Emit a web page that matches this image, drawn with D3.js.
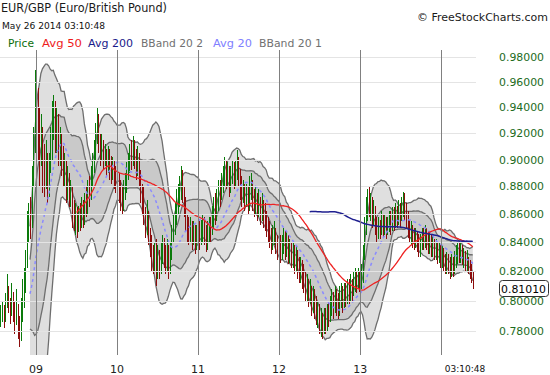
<!DOCTYPE html>
<html><head><meta charset="utf-8">
<script src="https://cdn.jsdelivr.net/npm/d3@7"></script>
<style>body{margin:0;background:#fff}svg{display:block}</style>
</head><body><svg id="c" width="550" height="375"></svg>
<script>
// ---- data (weekly bars, EUR/GBP) ----
const startDate = "2008-07-25";
const closeVals = [0.790,0.794,0.788,0.796,0.807,0.799,0.791,0.801,0.794,0.786,
0.796,0.783,0.777,0.791,0.803,0.812,0.826,0.848,0.862,0.852,
0.885,0.910,0.955,0.945,0.930,0.905,0.920,0.892,0.885,0.898,
0.880,0.895,0.910,0.925,0.940,0.920,0.930,0.905,0.915,0.900,
0.890,0.895,0.880,0.885,0.870,0.875,0.860,0.852,0.860,0.850,
0.858,0.855,0.862,0.858,0.868,0.865,0.878,0.872,0.888,0.895,
0.905,0.920,0.930,0.915,0.905,0.912,0.900,0.905,0.895,0.902,
0.898,0.890,0.895,0.888,0.882,0.885,0.878,0.872,0.868,0.875,
0.880,0.890,0.895,0.905,0.900,0.910,0.902,0.895,0.900,0.888,
0.875,0.870,0.858,0.850,0.860,0.845,0.838,0.830,0.825,0.832,
0.820,0.828,0.822,0.832,0.838,0.830,0.825,0.833,0.822,0.835,
0.845,0.852,0.860,0.868,0.875,0.880,0.885,0.878,0.868,0.855,
0.850,0.845,0.852,0.842,0.848,0.840,0.845,0.850,0.842,0.848,
0.855,0.845,0.840,0.848,0.852,0.845,0.858,0.865,0.860,0.870,
0.878,0.872,0.882,0.888,0.895,0.885,0.892,0.880,0.888,0.895,
0.885,0.890,0.898,0.888,0.880,0.872,0.878,0.870,0.875,0.868,
0.875,0.882,0.870,0.865,0.872,0.862,0.868,0.858,0.865,0.860,
0.858,0.852,0.848,0.845,0.840,0.845,0.848,0.840,0.836,0.842,
0.832,0.838,0.842,0.835,0.840,0.832,0.836,0.828,0.832,0.825,
0.830,0.822,0.818,0.822,0.815,0.812,0.808,0.810,0.802,0.806,
0.798,0.802,0.795,0.790,0.792,0.785,0.788,0.782,0.788,0.785,
0.792,0.790,0.795,0.800,0.796,0.802,0.798,0.795,0.800,0.805,
0.800,0.806,0.802,0.808,0.804,0.810,0.806,0.812,0.815,0.810,
0.816,0.812,0.815,0.830,0.850,0.865,0.872,0.862,0.868,0.858,
0.862,0.850,0.845,0.852,0.848,0.855,0.850,0.853,0.846,0.852,
0.858,0.852,0.858,0.855,0.860,0.858,0.862,0.858,0.865,0.870,
0.862,0.858,0.850,0.845,0.848,0.842,0.840,0.845,0.840,0.835,
0.840,0.845,0.840,0.846,0.842,0.838,0.842,0.835,0.838,0.832,
0.836,0.830,0.834,0.828,0.832,0.826,0.822,0.828,0.824,0.820,
0.826,0.822,0.828,0.832,0.835,0.830,0.834,0.828,0.830,0.826,
0.828,0.822,0.820,0.816,0.8101];
const highVals = [.797,.800,.797,.805,.818,.810,.802,.812,.806,.800,
.808,.798,.790,.802,.815,.822,.835,.862,.868,.872,
.895,.925,.970,.980,.955,.940,.935,.925,.912,.915,
.905,.905,.925,.945,.950,.945,.940,.935,.925,.920,
.910,.905,.900,.895,.890,.885,.880,.870,.868,.865,
.866,.868,.872,.870,.875,.880,.885,.888,.895,.905,
.915,.928,.940,.935,.920,.920,.915,.912,.908,.910,
.908,.903,.902,.900,.895,.893,.890,.885,.880,.885,
.890,.898,.905,.912,.915,.918,.915,.908,.910,.905,
.892,.882,.880,.865,.870,.862,.850,.845,.838,.840,
.842,.838,.835,.840,.845,.843,.838,.842,.838,.840,
.852,.860,.868,.878,.882,.888,.895,.892,.880,.872,
.860,.858,.858,.855,.855,.852,.852,.858,.855,.856,
.860,.858,.852,.855,.858,.858,.866,.872,.875,.878,
.885,.885,.890,.895,.902,.900,.898,.895,.895,.900,
.898,.900,.907,.902,.893,.888,.885,.882,.882,.880,
.888,.890,.885,.878,.880,.875,.878,.872,.875,.870,
.868,.862,.858,.855,.850,.852,.855,.850,.845,.850,
.845,.845,.850,.848,.848,.845,.842,.840,.840,.838,
.838,.835,.830,.830,.828,.825,.820,.818,.815,.815,
.810,.810,.808,.803,.800,.798,.795,.792,.795,.795,
.798,.800,.803,.808,.806,.810,.808,.805,.810,.812,
.810,.812,.812,.815,.815,.818,.815,.820,.822,.820,
.822,.820,.825,.838,.858,.872,.878,.880,.875,.872,
.870,.866,.858,.858,.856,.862,.860,.860,.858,.858,
.862,.862,.865,.865,.868,.866,.870,.868,.872,.876,
.875,.868,.862,.856,.855,.852,.850,.850,.848,.846,
.846,.850,.850,.852,.850,.848,.848,.846,.845,.842,
.842,.840,.840,.838,.838,.836,.832,.833,.832,.830,
.832,.830,.834,.838,.840,.840,.840,.838,.836,.834,
.835,.830,.828,.825,.820];
const lowVals = [.783,.786,.782,.786,.795,.792,.785,.790,.786,.778,
.784,.775,.770,.774,.786,.795,.805,.822,.840,.842,
.850,.880,.905,.925,.900,.880,.895,.875,.872,.878,
.868,.872,.890,.900,.915,.905,.905,.895,.895,.888,
.880,.880,.868,.870,.865,.865,.850,.848,.845,.843,
.847,.848,.850,.850,.852,.858,.860,.865,.870,.880,
.890,.900,.912,.905,.895,.900,.892,.895,.888,.890,
.885,.882,.885,.878,.875,.875,.868,.862,.860,.862,
.870,.875,.885,.890,.892,.895,.893,.885,.888,.880,
.868,.860,.852,.843,.845,.838,.830,.820,.818,.820,
.810,.815,.815,.818,.825,.822,.818,.820,.815,.818,
.828,.840,.845,.852,.860,.865,.870,.868,.858,.848,
.840,.838,.840,.835,.838,.832,.835,.838,.835,.838,
.840,.838,.833,.835,.840,.840,.845,.850,.852,.855,
.862,.865,.870,.875,.880,.878,.880,.872,.875,.882,
.878,.880,.885,.880,.870,.865,.868,.862,.865,.860,
.862,.870,.862,.858,.860,.855,.858,.852,.855,.850,
.848,.844,.840,.836,.832,.835,.838,.832,.828,.834,
.826,.828,.832,.828,.830,.825,.826,.822,.822,.818,
.820,.815,.812,.812,.808,.805,.800,.800,.796,.798,
.790,.792,.788,.784,.782,.778,.776,.775,.778,.778,
.780,.783,.786,.790,.788,.792,.790,.788,.790,.795,
.792,.795,.796,.798,.798,.800,.800,.803,.806,.805,
.808,.806,.808,.812,.828,.845,.855,.858,.855,.850,
.852,.845,.840,.842,.842,.845,.843,.845,.842,.845,
.847,.845,.848,.848,.850,.850,.852,.850,.855,.858,
.855,.850,.843,.840,.838,.836,.835,.836,.833,.830,
.830,.835,.835,.836,.835,.832,.832,.830,.830,.828,
.828,.825,.826,.822,.822,.820,.818,.818,.818,.815,
.816,.816,.818,.822,.825,.826,.826,.824,.822,.820,
.820,.818,.815,.812,.808];
const yTicks = [0.78,0.80,0.82,0.84,0.86,0.88,0.90,0.92,0.94,0.96,0.98];
const yearTicks = ["2009-01-01","2010-01-01","2011-01-01","2012-01-01","2013-01-01","2014-01-01"];
const yearLabels = ["09","10","11","12","13",""];
const lastTimeLabel = "03:10:48";
const lastPriceLabel = "0.81010";
const lastPrice = 0.8101;
const legendItems = [
  {name:"Price", color:"#0b6e0b"},
  {name:"Avg 50", color:"#ee1c1c"},
  {name:"Avg 200", color:"#1a1a8a"},
  {name:"BBand 20 2", color:"#707070"},
  {name:"Avg 20", color:"#8080ff"},
  {name:"BBand 20 1", color:"#707070"}
];
const legendX = [8, 42, 88, 141, 213, 259];
const legendW = [26, 40, 45, 62, 39, 63];

// ---- drawing ----
const svg = d3.select("#c");
svg.append("rect").attr("width",550).attr("height",375).attr("fill","#fff");
const FONT = "DejaVu Sans, Verdana, sans-serif";
const parse = d3.timeParse("%Y-%m-%d");
const d0 = parse(startDate);
const data = closeVals.map((c,i)=>({
  date: d3.timeDay.offset(d0, 7*i), close:c, high:highVals[i], low:lowVals[i],
  up: i===0 ? true : c >= closeVals[i-1]
}));

const x = d3.scaleTime().domain([parse("2009-01-01"), parse("2014-01-01")]).range([36, 441.3]);
const y = d3.scaleLog().domain([0.78, 0.98]).range([331.3, 57.3]);

function sma(n){ return closeVals.map((c,i)=> i<n-1 ? null : d3.mean(closeVals.slice(i-n+1,i+1))); }
function sdev(n){ return closeVals.map((c,i)=>{
  if(i<n-1) return null;
  const s = closeVals.slice(i-n+1,i+1), m = d3.mean(s);
  return Math.sqrt(d3.mean(s, v=>(v-m)*(v-m)));
});}
const a20 = sma(20), a50 = sma(50), a200 = sma(200), s20 = sdev(20);

svg.append("defs").append("clipPath").attr("id","clip")
  .append("rect").attr("x",0).attr("y",50).attr("width",476).attr("height",305);
const plot = svg.append("g").attr("clip-path","url(#clip)");

const band = k => d3.area().defined((d,i)=>a20[i]!=null)
  .x(d=>x(d.date)).y0((d,i)=>y(a20[i]-k*s20[i])).y1((d,i)=>y(a20[i]+k*s20[i]));
const bandLine = k => d3.line().defined((d,i)=>a20[i]!=null)
  .x(d=>x(d.date)).y((d,i)=>y(a20[i]+k*s20[i]));
const avgLine = arr => d3.line().defined((d,i)=>arr[i]!=null)
  .x(d=>x(d.date)).y((d,i)=>y(arr[i]));

plot.append("path").datum(data).attr("d",band(2)).attr("fill","#dfdfdf");
plot.append("path").datum(data).attr("d",band(1)).attr("fill","#c9c9c9");

// gridlines
svg.append("g").selectAll("line").data(yTicks).join("line")
  .attr("x1",0).attr("x2",476).attr("y1",d=>Math.round(y(d))+0.5).attr("y2",d=>Math.round(y(d))+0.5)
  .attr("stroke","#e4e4e4").attr("stroke-width",1);
// year lines
svg.append("g").selectAll("line").data(yearTicks).join("line")
  .attr("x1",d=>Math.round(x(parse(d)))+0.5).attr("x2",d=>Math.round(x(parse(d)))+0.5)
  .attr("y1",50).attr("y2",355).attr("stroke","#808080").attr("stroke-width",1);

[2,1,-1,-2].forEach(k=>{
  plot.append("path").datum(data).attr("d",bandLine(k)).attr("fill","none")
    .attr("stroke","#6e6e6e").attr("stroke-width",1.3);
});

// price bars (crisp 1px)
plot.append("g").attr("shape-rendering","crispEdges").selectAll("line").data(data).join("line")
  .attr("x1",d=>Math.round(x(d.date))+0.5).attr("x2",d=>Math.round(x(d.date))+0.5)
  .attr("y1",d=>y(d.high)).attr("y2",d=>y(d.low))
  .attr("stroke",d=>d.up?"#0a7a0a":"#8c0c0c").attr("stroke-width",1);

plot.append("path").datum(data).attr("d",avgLine(a20)).attr("fill","none")
  .attr("stroke","#8a8aff").attr("stroke-width",1.5).attr("stroke-dasharray","3,3");
plot.append("path").datum(data).attr("d",avgLine(a50)).attr("fill","none")
  .attr("stroke","#ee2222").attr("stroke-width",1.3);
plot.append("path").datum(data).attr("d",avgLine(a200)).attr("fill","none")
  .attr("stroke","#1f1f8f").attr("stroke-width",1.5);

// y axis labels
svg.append("g").selectAll("text").data(yTicks).join("text")
  .attr("x",499).attr("y",d=>y(d)+4).attr("font-family",FONT).attr("font-size",10.5)
  .attr("fill","#1c6b1c").attr("textLength",45).attr("lengthAdjust","spacingAndGlyphs")
  .text(d=>d.toFixed(5));
// last price box
const lp = y(lastPrice);
svg.append("rect").attr("x",499.5).attr("y",Math.round(lp)-5.5).attr("width",49).attr("height",16).attr("rx",3)
  .attr("fill","#fff").attr("stroke","#333");
svg.append("text").attr("x",501).attr("y",Math.round(lp)+6.5).attr("font-family",FONT).attr("font-size",10.5)
  .attr("fill","#000").attr("textLength",45).attr("lengthAdjust","spacingAndGlyphs").text(lastPriceLabel);

// x labels
svg.append("g").selectAll("text").data(yearTicks).join("text")
  .attr("x",d=>x(parse(d))).attr("y",373).attr("text-anchor","middle")
  .attr("font-family",FONT).attr("font-size",11).attr("fill","#222")
  .text((d,i)=>yearLabels[i]);
svg.append("text").attr("x",465).attr("y",372).attr("text-anchor","middle")
  .attr("font-family",FONT).attr("font-size",9).attr("fill","#111").text(lastTimeLabel);

// titles
svg.append("text").attr("x",1).attr("y",12).attr("font-family",FONT).attr("font-size",12)
  .attr("fill","#1a1a1a").attr("textLength",166).attr("lengthAdjust","spacingAndGlyphs")
  .text("EUR/GBP (Euro/British Pound)");
svg.append("text").attr("x",2).attr("y",28.5).attr("font-family",FONT).attr("font-size",9.5)
  .attr("fill","#111").attr("textLength",103).attr("lengthAdjust","spacingAndGlyphs")
  .text("May 26 2014 03:10:48");
svg.append("text").attr("x",417).attr("y",20.5).attr("font-family",FONT).attr("font-size",11)
  .attr("fill","#1a1a1a").attr("textLength",131).attr("lengthAdjust","spacingAndGlyphs")
  .text("© FreeStockCharts.com");
svg.append("g").selectAll("text").data(legendItems).join("text")
  .attr("x",(d,i)=>legendX[i]).attr("y",47).attr("font-family",FONT).attr("font-size",11)
  .attr("fill",d=>d.color).attr("textLength",(d,i)=>legendW[i]).attr("lengthAdjust","spacingAndGlyphs")
  .text(d=>d.name);
</script></body></html>
